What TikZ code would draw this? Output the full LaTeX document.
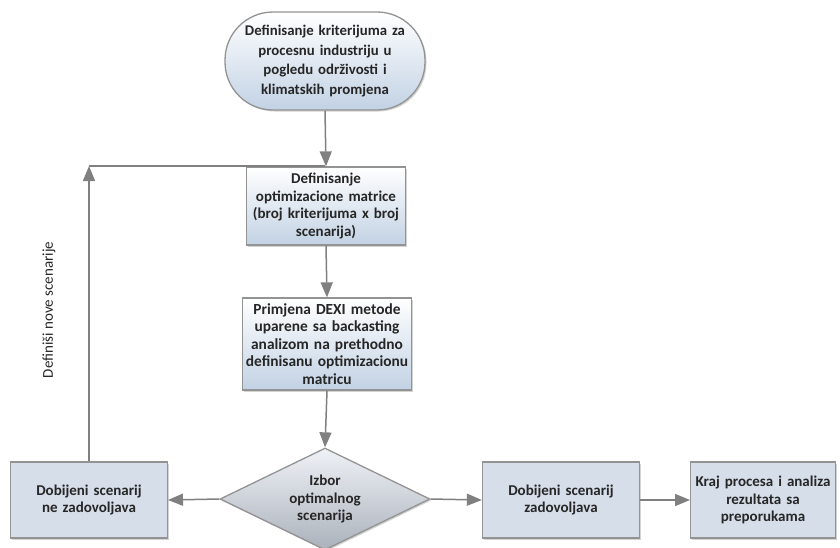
\documentclass[tikz,border=0pt]{standalone}
\usepackage{fontspec}
\setmainfont{Carlito}
\usetikzlibrary{shapes.geometric,arrows.meta,shadows}

\definecolor{boxblue}{RGB}{214,222,234}
\definecolor{shadeblue}{RGB}{194,210,228}
\definecolor{lineg}{RGB}{128,128,128}

\begin{document}
\begin{tikzpicture}[x=1pt,y=1pt,
    font=\fontsize{15}{17.8}\selectfont\bfseries,
    flowbox/.style={draw=lineg!85, line width=1.3pt, align=center, text=black!85,
        drop shadow={shadow xshift=1.5pt, shadow yshift=-1.5pt, opacity=0.35}},
    shadedbox/.style={flowbox, top color=white, bottom color=shadeblue},
    flatbox/.style={flowbox, fill=boxblue},
    conn/.style={draw=lineg, line width=1.5pt, -{Triangle[length=15pt,width=12pt]}}]
    \useasboundingbox (0,0) rectangle (840,-547);

    % cvorovi
    \node [shadedbox, rounded corners=48pt, minimum width=200pt, minimum height=98pt,
           text width=180pt, font=\fontsize{14.8}{19.5}\selectfont\bfseries] (kriterij) at (325,-61)
        {Definisanje kriterijuma za\\procesnu industriju u\\pogledu održivosti i\\klimatskih promjena};
    \node [shadedbox, minimum width=155pt, minimum height=78pt, text width=153pt] (matrica) at (326,-206)
        {Definisanje\\optimizacione matrice\\(broj kriterijuma x broj\\scenarija)};
    \node [shadedbox, minimum width=165pt, minimum height=92pt, text width=163pt,
           font=\fontsize{15.4}{17.6}\selectfont\bfseries] (dexi) at (327,-344)
        {Primjena DEXI metode\\uparene sa backasting\\analizom na prethodno\\definisanu optimizacionu\\matricu};
    \node [flowbox, diamond, aspect=2.06, top color=white!60!boxblue, bottom color=boxblue!80!black,
           minimum width=210pt, minimum height=102pt, inner sep=0pt, text width=78pt] (izbor) at (325,-499)
        {Izbor\\optimalnog\\scenarija};
    \node [flatbox, minimum width=155pt, minimum height=76pt, text width=150pt] (ne) at (89,-500)
        {Dobijeni scenarij\\ne zadovoljava};
    \node [flatbox, minimum width=157pt, minimum height=76pt, text width=150pt] (da) at (561,-500)
        {Dobijeni scenarij\\zadovoljava};
    \node [flatbox, minimum width=140pt, minimum height=76pt, text width=138pt] (kraj) at (763,-500)
        {Kraj procesa i analiza\\rezultata sa\\preporukama};

    \coordinate (ugao) at (ne.north |- 0,-166);
    \coordinate (spoj) at (kriterij.south |- 0,-166);

    % veze
    \draw [conn] (kriterij.south) -- (matrica.north);
    \draw [conn] (matrica.south) -- (dexi.north);
    \draw [conn] (dexi.south) -- (izbor.north);
    \draw [conn] (izbor.west) -- (ne.east);
    \draw [conn] (izbor.east) -- (da.west);
    \draw [conn] (da.east) -- (kraj.west);
    \draw [conn] (ne.north) -- (ugao);
    \draw [draw=lineg, line width=1.5pt] (ugao) -- (spoj);

    \node [rotate=90, font=\fontsize{15}{18}\selectfont, text=black!85] (nove) at (49,-310) {Definiši nove scenarije};
\end{tikzpicture}
\end{document}
